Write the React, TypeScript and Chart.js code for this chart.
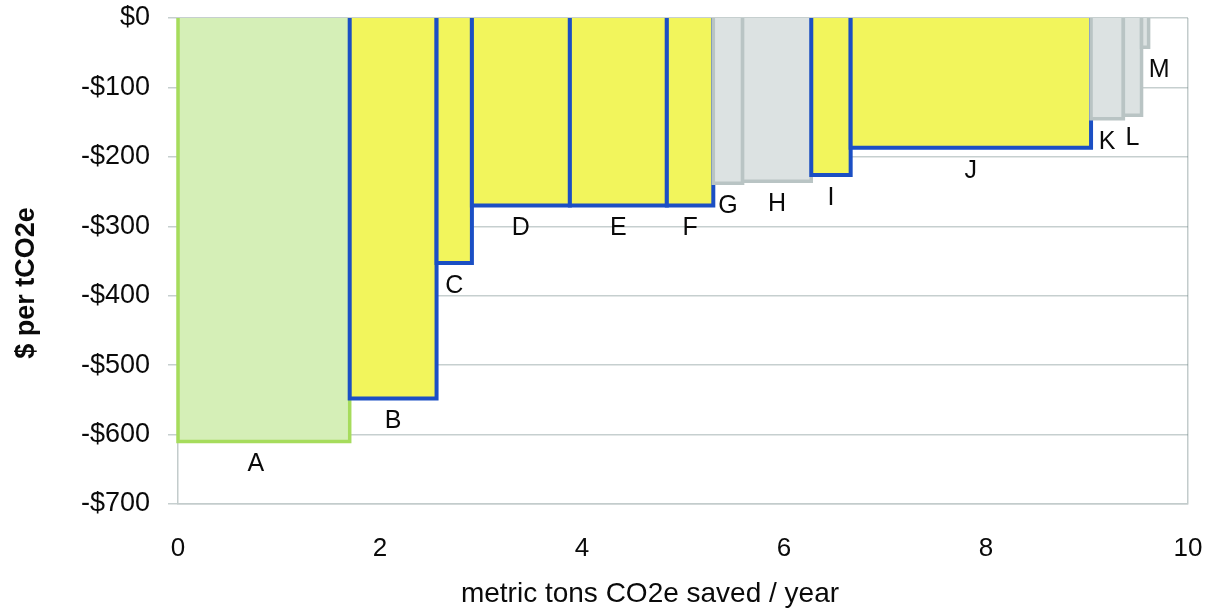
import { useEffect, useRef } from "react";
import { Chart, registerables } from "chart.js";

Chart.register(...registerables);

// ---- Data ----
const measures = ["A", "B", "C", "D", "E", "F", "G", "H", "I", "J", "K", "L", "M"];
const savings = [1.7, 0.86, 0.35, 0.97, 0.96, 0.46, 0.29, 0.68, 0.39, 2.38, 0.32, 0.18, 0.07];
const costs = [-610, -548, -353, -270, -270, -270, -238, -235, -226, -187, -145, -140, -42];
const kinds = ["green", "yellow", "yellow", "yellow", "yellow", "yellow", "gray", "gray", "yellow", "yellow", "gray", "gray", "gray"];
const yTickValues = [0, -100, -200, -300, -400, -500, -600, -700];
const xTickValues = [0, 2, 4, 6, 8, 10];
const yTitle = "$ per tCO2e";
const xTitle = "metric tons CO2e saved / year";

// ---- Styles ----
const FONT = "'Liberation Sans', Arial, sans-serif";
const palette: Record<string, { fill: string; border: string; width: number }> = {
  green: { fill: "#d5efb7", border: "#a6dc5c", width: 3.5 },
  yellow: { fill: "#f2f55c", border: "#1b4fc4", width: 4 },
  gray: { fill: "#dce2e2", border: "#b9c4c4", width: 3.5 },
};
const labelNudge: Record<string, number> = { A: -8, M: 14 };

export default function App() {
  const ref = useRef<HTMLCanvasElement | null>(null);

  useEffect(() => {
    if (!ref.current) return;
    const starts: number[] = [];
    let acc = 0;
    savings.forEach((w) => {
      starts.push(acc);
      acc += w;
    });

    const datasets = measures.map((m, i) => {
      const p = palette[kinds[i]];
      const x0 = starts[i];
      const x1 = starts[i] + savings[i];
      return {
        type: "line" as const,
        label: m,
        data: [
          { x: x0, y: 0 },
          { x: x0, y: costs[i] },
          { x: x1, y: costs[i] },
          { x: x1, y: 0 },
        ],
        borderColor: p.border,
        backgroundColor: p.fill,
        borderWidth: p.width,
        fill: "origin",
        pointRadius: 0,
        pointHoverRadius: 0,
        tension: 0,
        borderJoinStyle: "miter" as const,
        borderCapStyle: "butt" as const,
        clip: false as any,
        order: measures.length - i,
      };
    });

    const labelPlugin = {
      id: "barLabels",
      afterDraw(chart: any) {
        const { ctx, scales } = chart;
        const xs = scales.x;
        const ys = scales.y;
        ctx.save();
        ctx.fillStyle = "#0a0a0a";
        ctx.font = `25px ${FONT}`;
        ctx.textAlign = "center";
        ctx.textBaseline = "middle";
        measures.forEach((m, i) => {
          const cx = xs.getPixelForValue(starts[i] + savings[i] / 2) + (labelNudge[m] || 0);
          const cy = ys.getPixelForValue(costs[i]) + 23;
          ctx.fillText(m, cx, cy);
        });
        // axis titles
        ctx.font = `28px ${FONT}`;
        ctx.fillText(xTitle, 650, 594);
        ctx.save();
        ctx.translate(27, 283);
        ctx.rotate(-Math.PI / 2);
        ctx.font = `bold 27px ${FONT}`;
        ctx.fillText(yTitle, 0, 0);
        ctx.restore();
        ctx.restore();
      },
    };

    const chart = new Chart(ref.current, {
      type: "line",
      data: { datasets: datasets as any },
      options: {
        responsive: false,
        animation: false,
        devicePixelRatio: 1,
        layout: { padding: { top: 18, right: 19, left: 0, bottom: 0 } },
        plugins: { legend: { display: false }, tooltip: { enabled: false } },
        scales: {
          x: {
            type: "linear",
            min: 0,
            max: 10,
            afterBuildTicks: (s: any) => {
              s.ticks = xTickValues.map((v) => ({ value: v }));
            },
            afterFit: (s: any) => {
              s.height = 106;
              s.paddingLeft = 0;
              s.paddingRight = 0;
            },
            grid: {
              drawTicks: false,
              lineWidth: 1.5,
              color: (c: any) =>
                c.tick && (c.tick.value === 0 || c.tick.value === 10) ? "#c3cccc" : "rgba(0,0,0,0)",
            },
            border: { display: true, color: "#c3cccc", width: 1.5 },
            ticks: {
              padding: 29,
              color: "#0a0a0a",
              font: { family: FONT, size: 26 },
              maxRotation: 0,
              callback: (v: any) => String(v),
            },
          },
          y: {
            type: "linear",
            min: -700,
            max: 0,
            z: 1,
            afterBuildTicks: (s: any) => {
              s.ticks = yTickValues.map((v) => ({ value: v }));
            },
            afterFit: (s: any) => {
              s.width = 178;
              s.paddingTop = 0;
              s.paddingBottom = 0;
            },
            grid: {
              color: "rgba(120,140,140,0.42)",
              lineWidth: 1.5,
              tickLength: 10,
            },
            border: { display: false },
            ticks: {
              padding: 18,
              color: "#0a0a0a",
              font: { family: FONT, size: 27 },
              callback: (v: any) => (v === 0 ? "$0" : "-$" + Math.abs(v)),
            },
          },
        },
      },
      plugins: [labelPlugin],
    });
    return () => chart.destroy();
  }, []);

  return (
    <div style={{ position: "absolute", left: 0, top: 0, width: 1207, height: 610, background: "#fff" }}>
      <canvas ref={ref} width={1207} height={610} style={{ display: "block" }} />
    </div>
  );
}
